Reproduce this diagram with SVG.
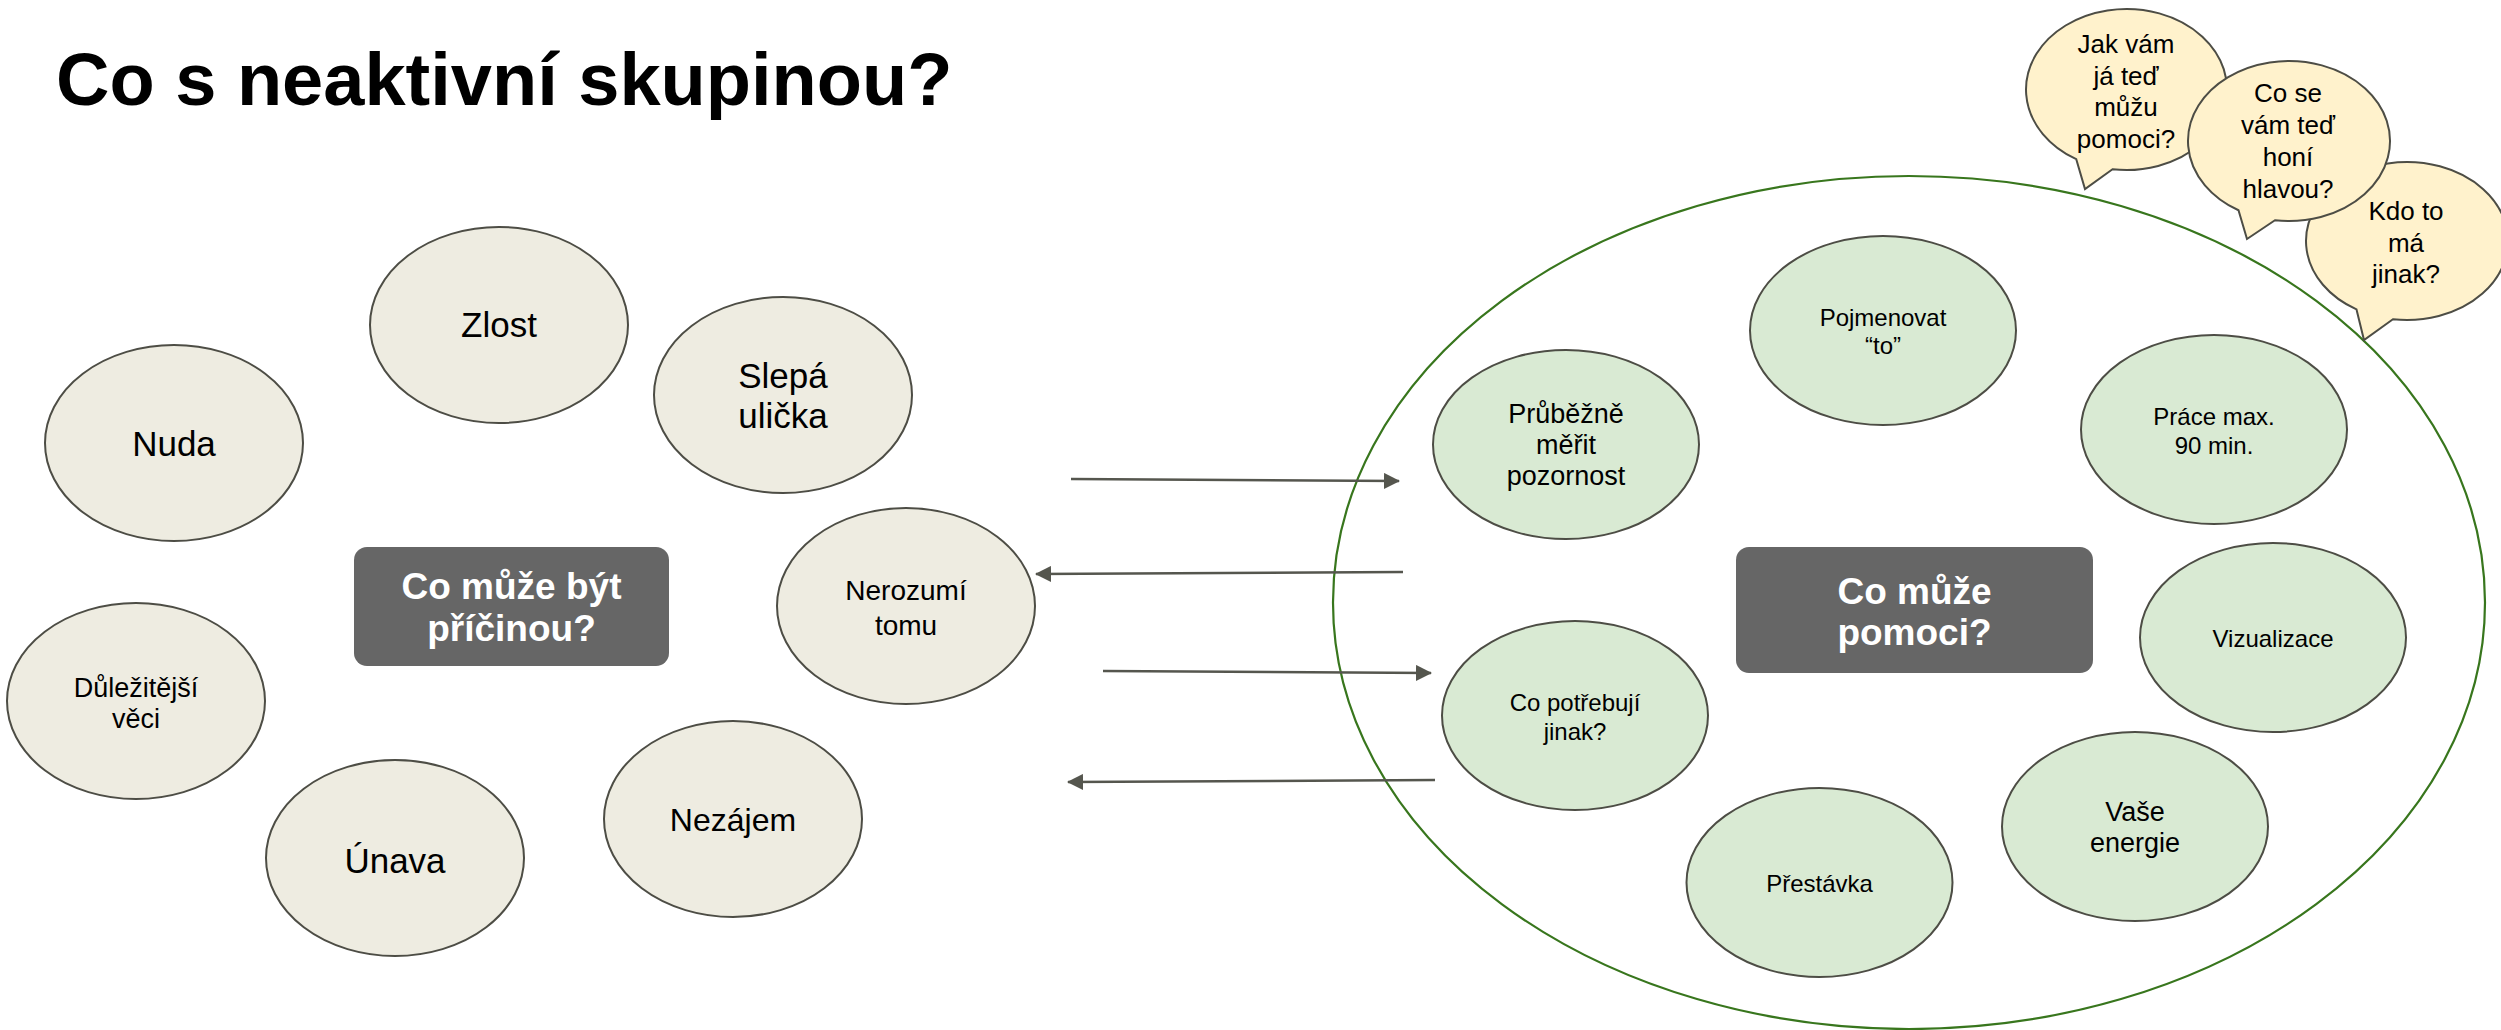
<svg xmlns="http://www.w3.org/2000/svg" width="2501" height="1030" viewBox="0 0 2501 1030">
<style>
  text { font-family: "Liberation Sans", Arial, sans-serif; fill: #000; text-anchor: middle; }
  .title { font-size: 74px; font-weight: bold; text-anchor: start; }
  .cause { fill: #eeece1; stroke: #4d4d45; stroke-width: 2; }
  .help { fill: #d9ead3; stroke: #4d4d45; stroke-width: 2; }
  .bubble { fill: #fff2cc; stroke: #4d4d45; stroke-width: 2; }
  .box { fill: #666666; }
  .boxt { font-size: 37px; font-weight: bold; fill: #ffffff; }
  .big { fill: none; stroke: #38761d; stroke-width: 2.2; }
  .conn { stroke: #55564e; stroke-width: 2.5; fill: none; marker-end: url(#arr); }
  .f35 { font-size: 35px; }
  .f32 { font-size: 32px; }
  .f28 { font-size: 28px; }
  .f27 { font-size: 27px; }
  .f24 { font-size: 24px; }
  .f26 { font-size: 26px; }
</style>
<defs>
  <marker id="arr" viewBox="0 0 16 16" refX="15" refY="8" markerWidth="16" markerHeight="16" markerUnits="userSpaceOnUse" orient="auto">
    <path d="M0,0 L16,8 L0,16 Z" fill="#55564e"/>
  </marker>
</defs>
<rect width="2501" height="1030" fill="#ffffff"/>
<text class="title" x="56" y="105">Co s neaktivní skupinou?</text>

<g id="help-area">
  <ellipse class="big" cx="1909" cy="602.5" rx="576" ry="426.5"/>
</g>

<g id="bubble-kdo">
  <path class="bubble" d="M2392.94,319.23 L2364,340 L2356.5,309.41 A101,79 0 1 1 2392.94,319.23 Z"/>
  <text class="f26" x="2406" y="220">Kdo to</text>
  <text class="f26" x="2406" y="252">má</text>
  <text class="f26" x="2406" y="283">jinak?</text>
</g>
<g id="bubble-jak">
  <path class="bubble" d="M2112.51,169.22 L2085,189 L2076.25,159.21 A100.5,80.5 0 1 1 2112.51,169.22 Z"/>
  <text class="f26" x="2126" y="53">Jak vám</text>
  <text class="f26" x="2126" y="85">já teď</text>
  <text class="f26" x="2126" y="116">můžu</text>
  <text class="f26" x="2126" y="148">pomoci?</text>
</g>
<g id="bubble-co">
  <path class="bubble" d="M2274.94,220.22 L2247,239 L2238.5,210.28 A101,80 0 1 1 2274.94,220.22 Z"/>
  <text class="f26" x="2288" y="102">Co se</text>
  <text class="f26" x="2288" y="134">vám teď</text>
  <text class="f26" x="2288" y="166">honí</text>
  <text class="f26" x="2288" y="198">hlavou?</text>
</g>

<g id="cause-zlost">
  <ellipse class="cause" cx="499" cy="325" rx="129" ry="98"/>
  <text class="f35" x="499" y="337">Zlost</text>
</g>
<g id="cause-nuda">
  <ellipse class="cause" cx="174" cy="443" rx="129" ry="98"/>
  <text class="f35" x="174" y="456">Nuda</text>
</g>
<g id="cause-slepa">
  <ellipse class="cause" cx="783" cy="395" rx="129" ry="98"/>
  <text class="f35" x="783" y="388">Slepá</text>
  <text class="f35" x="783" y="428">ulička</text>
</g>
<g id="cause-nerozumi">
  <ellipse class="cause" cx="906" cy="606" rx="129" ry="98"/>
  <text class="f28" x="906" y="600">Nerozumí</text>
  <text class="f28" x="906" y="635">tomu</text>
</g>
<g id="cause-dulezitejsi">
  <ellipse class="cause" cx="136" cy="701" rx="129" ry="98"/>
  <text class="f27" x="136" y="697">Důležitější</text>
  <text class="f27" x="136" y="728">věci</text>
</g>
<g id="cause-unava">
  <ellipse class="cause" cx="395" cy="858" rx="129" ry="98"/>
  <text class="f35" x="395" y="873">Únava</text>
</g>
<g id="cause-nezajem">
  <ellipse class="cause" cx="733" cy="819" rx="129" ry="98"/>
  <text class="f32" x="733" y="831">Nezájem</text>
</g>
<g id="box-pricina">
  <rect class="box" x="354" y="547" width="315" height="119" rx="13"/>
  <text class="boxt" x="511.5" y="599">Co může být</text>
  <text class="boxt" x="511.5" y="641">příčinou?</text>
</g>

<g id="help-pojmenovat">
  <ellipse class="help" cx="1883" cy="330.5" rx="133" ry="94.5"/>
  <text class="f24" x="1883" y="326">Pojmenovat</text>
  <text class="f24" x="1883" y="354">“to”</text>
</g>
<g id="help-prubezne">
  <ellipse class="help" cx="1566" cy="444.5" rx="133" ry="94.5"/>
  <text class="f27" x="1566" y="423">Průběžně</text>
  <text class="f27" x="1566" y="454">měřit</text>
  <text class="f27" x="1566" y="485">pozornost</text>
</g>
<g id="help-prace">
  <ellipse class="help" cx="2214" cy="429.5" rx="133" ry="94.5"/>
  <text class="f24" x="2214" y="425">Práce max.</text>
  <text class="f24" x="2214" y="454">90 min.</text>
</g>
<g id="help-vizualizace">
  <ellipse class="help" cx="2273" cy="637.5" rx="133" ry="94.5"/>
  <text class="f24" x="2273" y="647">Vizualizace</text>
</g>
<g id="help-copotrebuji">
  <ellipse class="help" cx="1575" cy="715.5" rx="133" ry="94.5"/>
  <text class="f24" x="1575" y="711">Co potřebují</text>
  <text class="f24" x="1575" y="740">jinak?</text>
</g>
<g id="help-energie">
  <ellipse class="help" cx="2135" cy="826.5" rx="133" ry="94.5"/>
  <text class="f27" x="2135" y="821">Vaše</text>
  <text class="f27" x="2135" y="852">energie</text>
</g>
<g id="help-prestavka">
  <ellipse class="help" cx="1819.5" cy="882.5" rx="133" ry="94.5"/>
  <text class="f24" x="1819.5" y="892">Přestávka</text>
</g>
<g id="box-pomoci">
  <rect class="box" x="1736" y="547" width="357" height="126" rx="13"/>
  <text class="boxt" x="1914.5" y="604">Co může</text>
  <text class="boxt" x="1914.5" y="645">pomoci?</text>
</g>

<g id="connectors">
  <line class="conn" x1="1071" y1="479" x2="1399" y2="481"/>
  <line class="conn" x1="1403" y1="572" x2="1036" y2="574"/>
  <line class="conn" x1="1103" y1="671" x2="1431" y2="673"/>
  <line class="conn" x1="1435" y1="780" x2="1068" y2="782"/>
</g>
</svg>
